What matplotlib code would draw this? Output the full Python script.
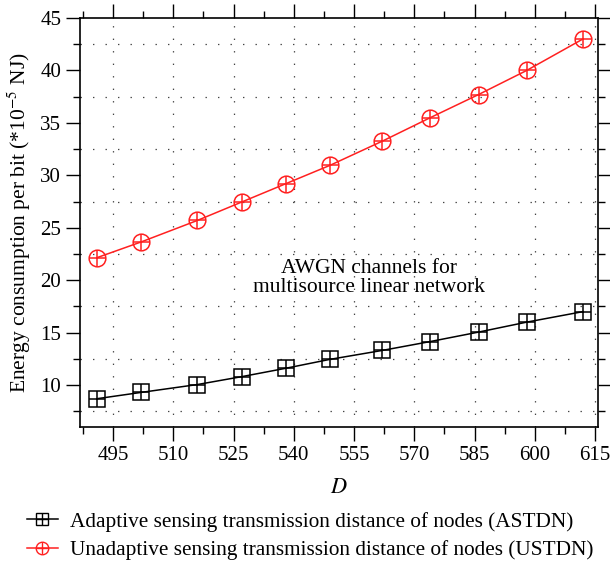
import matplotlib
matplotlib.use("Agg")
import matplotlib.pyplot as plt
from matplotlib.lines import Line2D
from matplotlib.ticker import MultipleLocator

plt.rcParams['font.family'] = ['Liberation Serif', 'DejaVu Serif']
plt.rcParams['mathtext.fontset'] = 'stix'
plt.rcParams['lines.scale_dashes'] = False

D = [491, 502, 516, 527, 538, 549, 562, 574, 586, 598, 612]
astdn = [8.7, 9.3, 10.05, 10.8, 11.6, 12.45, 13.3, 14.15, 15.05, 16.0, 17.0]
ustdn = [22.15, 23.65, 25.7, 27.45, 29.2, 30.95, 33.25, 35.5, 37.7, 40.0, 43.0]
xticks = [495, 510, 525, 540, 555, 570, 585, 600, 615]
yticks = [10, 15, 20, 25, 30, 35, 40, 45]
labels = ["Adaptive sensing transmission distance of nodes (ASTDN)",
          "Unadaptive sensing transmission distance of nodes (USTDN)"]

fig = plt.figure(figsize=(6.10, 5.64), dpi=100)
ax = fig.add_axes([80/610, 1-427/564, (598-80)/610, (427-18)/564])

ms = 11
ax.plot(D, astdn, color='black', lw=1.1, marker='s', ms=ms, mfc='none', mew=1.1)
ax.plot(D, astdn, color='none', marker='+', ms=ms, mec='black', mew=1.1, ls='none')
ax.plot(D, ustdn, color='#ff2020', lw=1.1, marker='o', ms=ms+1, mfc='none', mew=1.1)
ax.plot(D, ustdn, color='none', marker='+', ms=ms+1, mec='#ff2020', mew=1.1, ls='none')

ax.set_xlim(486.75, 615.75)
ax.set_ylim(6, 45)
ax.set_xticks(xticks)
ax.set_yticks(yticks)
ax.xaxis.set_minor_locator(MultipleLocator(7.5))
ax.yaxis.set_minor_locator(MultipleLocator(2.5))
ax.tick_params(which='both', direction='out', top=True, right=True, labelsize=15, colors='black')
ax.tick_params(which='major', length=10, width=1)
ax.tick_params(which='minor', length=5, width=1)
for s in ax.spines.values():
    s.set_linewidth(1.2)

# grid: vertical at major x, horizontal at minor y
for x in xticks:
    ax.axvline(x, color='#444444', lw=0.9, ls=(0, (1, 8)), zorder=0)
for y in [7.5, 12.5, 17.5, 22.5, 27.5, 32.5, 37.5, 42.5]:
    ax.axhline(y, color='#444444', lw=0.9, ls=(0, (1, 8)), zorder=0)

ax.text(558.75, 20.2, "AWGN channels for\nmultisource linear network", ha='center', va='center',
        fontsize=15.5, linespacing=1.0)

ax.set_xlabel("$D$", fontsize=16, labelpad=10)
ax.set_ylabel("Energy consumption per bit (*10$^{-5}$ NJ)", fontsize=15.5, labelpad=5)

h1 = (Line2D([], [], color='black', lw=1.1, marker='s', ms=8, mfc='none', mew=1.0),
      Line2D([], [], color='none', marker='+', ms=8, mec='black', mew=1.0))
h2 = (Line2D([], [], color='#ff2020', lw=1.1, marker='o', ms=9, mfc='none', mew=1.0),
      Line2D([], [], color='none', marker='+', ms=9, mec='#ff2020', mew=1.0))
fig.legend([h1, h2], labels, loc='upper left', bbox_to_anchor=(27/610, 1-512/564),
           frameon=False, fontsize=15.3, handlelength=1.45, handletextpad=0.55,
           labelspacing=0.4, borderaxespad=0, borderpad=0)

fig.savefig("out.png", dpi=100)
